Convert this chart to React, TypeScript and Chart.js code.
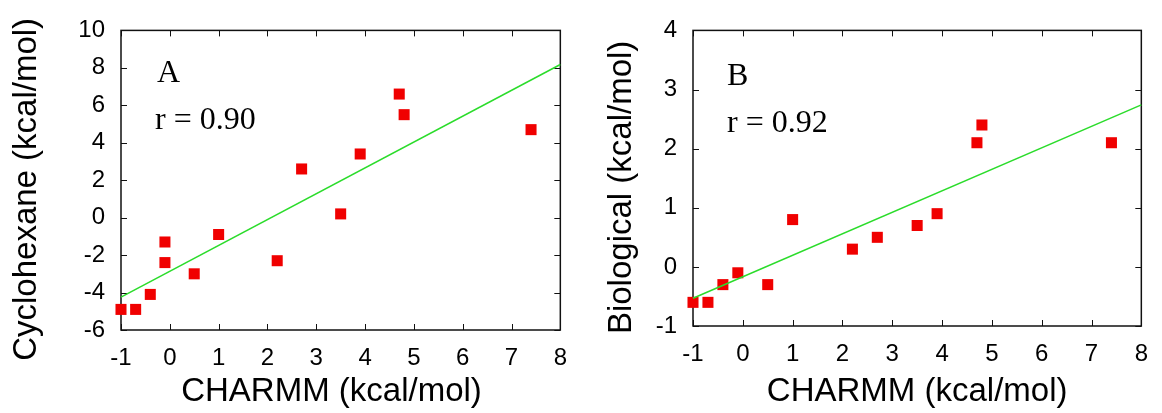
import React, { useEffect, useRef } from 'react';
import { Chart, registerables } from 'chart.js';

Chart.register(...registerables);

// Panel A data
const charmmA = [-1, -0.7, -0.4, -0.1, -0.1, 0.5, 1.0, 2.2, 2.7, 3.5, 3.9, 4.7, 4.8, 7.4];
const cyclohexane = [-4.9, -4.9, -4.1, -1.3, -2.4, -3.0, -0.9, -2.3, 2.6, 0.2, 3.4, 6.6, 5.5, 4.7];
// Panel B data
const charmmB = [-1, -0.7, -0.4, -0.1, 0.5, 1.0, 2.2, 2.7, 3.5, 3.9, 4.7, 4.8, 7.4];
const biological = [-0.6, -0.6, -0.3, -0.1, -0.3, 0.8, 0.3, 0.5, 0.7, 0.9, 2.1, 2.4, 2.1];
// Fit line endpoints
const fitX = [-1, 8];
const fitA = [-4.24, 8.18];
const fitB = [-0.53, 2.74];
// Labels
const xTitle = 'CHARMM (kcal/mol)';
const yTitleA = 'Cyclohexane (kcal/mol)';
const yTitleB = 'Biological (kcal/mol)';
const notesA = ['A', 'r = 0.90'];
const notesB = ['B', 'r = 0.92'];

const SANS = '"Liberation Sans", Arial, Helvetica, sans-serif';
const SERIF = '"Liberation Serif", "Times New Roman", serif';

const framePlugin = {
  id: 'frame',
  beforeDatasetsDraw(chart: any, _args: any, opts: any) {
    const { ctx, chartArea: a, scales } = chart;
    ctx.save();
    ctx.strokeStyle = '#111';
    ctx.lineWidth = 1;
    const tl = 6;
    ctx.beginPath();
    scales.x.ticks.forEach((t: any) => {
      const px = Math.round(scales.x.getPixelForValue(t.value)) + 0.5;
      ctx.moveTo(px, a.bottom);
      ctx.lineTo(px, a.bottom - tl);
      ctx.moveTo(px, a.top);
      ctx.lineTo(px, a.top + tl);
    });
    scales.y.ticks.forEach((t: any) => {
      const py = Math.round(scales.y.getPixelForValue(t.value)) + 0.5;
      ctx.moveTo(a.left, py);
      ctx.lineTo(a.left + tl, py);
      ctx.moveTo(a.right, py);
      ctx.lineTo(a.right - tl, py);
    });
    ctx.stroke();
    ctx.lineWidth = 1.5;
    ctx.strokeRect(a.left, a.top, a.right - a.left, a.bottom - a.top);
    // annotations
    ctx.fillStyle = '#000';
    ctx.font = `32px ${SERIF}`;
    ctx.textBaseline = 'alphabetic';
    ctx.textAlign = 'left';
    (opts.notes || []).forEach((n: any) => {
      ctx.fillText(n.text, a.left + n.dx, a.top + n.dy);
    });
    ctx.restore();
  },
};

function makeConfig(
  xs: number[], ys: number[], fit: number[],
  yMin: number, yMax: number, yStep: number,
  yTitle: string, xTitleText: string,
  layoutPad: any, yWidth: number, xHeight: number, yTitlePad: number,
  notes: any[]
) {
  return {
    type: 'scatter',
    data: {
      datasets: [
        {
          data: fitX.map((x, i) => ({ x, y: fit[i] })),
          showLine: true,
          borderColor: '#2bdc2b',
          borderWidth: 1.5,
          pointRadius: 0,
          clip: false,
        },
        {
          data: xs.map((x, i) => ({ x, y: ys[i] })),
          showLine: false,
          pointStyle: 'rect',
          pointRadius: 7.8,
          backgroundColor: '#f00000',
          borderWidth: 0,
          clip: false,
        },
      ],
    },
    options: {
      responsive: false,
      animation: false,
      devicePixelRatio: 1,
      layout: { padding: layoutPad },
      plugins: {
        legend: { display: false },
        tooltip: { enabled: false },
        frame: { notes },
      },
      scales: {
        x: {
          type: 'linear',
          min: -1,
          max: 8,
          ticks: { stepSize: 1, color: '#000', font: { family: SANS, size: 24 }, padding: 14 },
          grid: { display: false, drawTicks: false },
          border: { display: false },
          title: {
            display: true,
            text: xTitleText,
            color: '#000',
            font: { family: SANS, size: 33 },
            padding: { top: 0, bottom: 1 },
          },
          afterFit: (s: any) => { s.height = xHeight; },
        },
        y: {
          type: 'linear',
          min: yMin,
          max: yMax,
          ticks: { stepSize: yStep, color: '#000', font: { family: SANS, size: 24 }, padding: 16 },
          grid: { display: false, drawTicks: false },
          border: { display: false },
          title: {
            display: true,
            text: yTitle,
            color: '#000',
            font: { family: SANS, size: 33 },
            padding: { top: yTitlePad, bottom: 0 },
          },
          afterFit: (s: any) => { s.width = yWidth; },
        },
      },
    },
    plugins: [framePlugin],
  } as any;
}

function Panel({ config, left }: { config: any; left: number }) {
  const ref = useRef<HTMLCanvasElement | null>(null);
  useEffect(() => {
    if (!ref.current) return;
    const chart = new Chart(ref.current, config);
    return () => chart.destroy();
  }, [config]);
  return (
    <canvas
      ref={ref}
      width={581}
      height={413}
      style={{ position: 'absolute', left, top: 0, width: 581, height: 413, display: 'block' }}
    />
  );
}

const configA = makeConfig(
  charmmA, cyclohexane, fitA, -6, 10, 2,
  yTitleA + '  ', xTitle + '  ',
  { top: 25, right: 19, left: 0, bottom: 0 }, 121, 83, 7,
  [{ text: notesA[0], dx: 36, dy: 52 }, { text: notesA[1], dx: 34, dy: 99 }]
);
const configB = makeConfig(
  charmmB, biological, fitB, -1, 4, 1,
  yTitleB + '  ', xTitle,
  { top: 22, right: 13, left: 0, bottom: 0 }, 112, 87, 21,
  [{ text: notesB[0], dx: 34, dy: 55 }, { text: notesB[1], dx: 34, dy: 102 }]
);

export default function App() {
  return (
    <div style={{ position: 'fixed', left: 0, top: 0, width: 1162, height: 413, background: '#fff' }}>
      <Panel config={configA} left={0} />
      <Panel config={configB} left={581} />
    </div>
  );
}
